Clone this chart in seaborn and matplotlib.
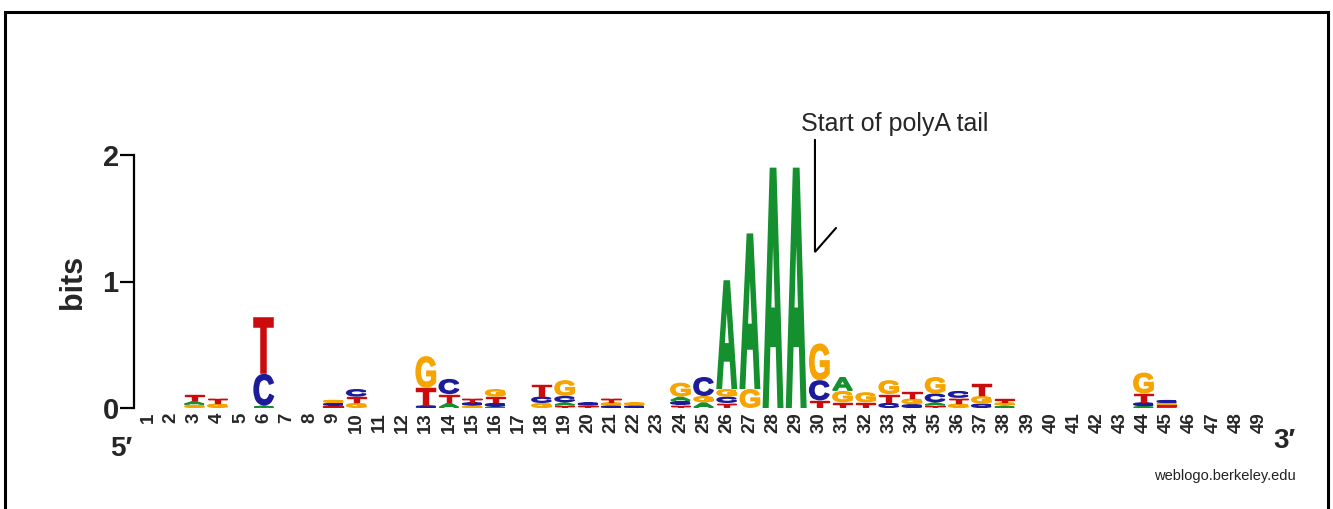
import numpy as np
import pandas as pd
import seaborn as sns
import matplotlib
matplotlib.use("Agg")
import matplotlib.pyplot as plt
from matplotlib.textpath import TextPath
from matplotlib.patches import PathPatch, Rectangle
from matplotlib.font_manager import FontProperties
import matplotlib.transforms as mtransforms

# Information content (bits) per nucleotide at each of the 49 positions
positions = list(range(1, 50))
A_bits = [0, 0, 0.030, 0, 0, 0.020, 0, 0, 0, 0,
          0, 0, 0, 0.040, 0, 0.010, 0, 0, 0.025, 0,
          0, 0, 0, 0.035, 0.045, 0.860, 1.230, 1.900, 1.900, 0,
          0.110, 0, 0, 0, 0.025, 0, 0, 0.020, 0, 0,
          0, 0, 0, 0.015, 0.012, 0, 0, 0, 0]
C_bits = [0, 0, 0, 0, 0, 0.250, 0, 0, 0.022, 0.060,
          0, 0, 0.020, 0.120, 0.025, 0.030, 0, 0.050, 0.050, 0.025,
          0.020, 0.020, 0, 0.030, 0.150, 0.050, 0, 0, 0, 0.160,
          0, 0, 0.040, 0.030, 0.070, 0.055, 0.035, 0, 0, 0,
          0, 0, 0, 0.030, 0.025, 0, 0, 0, 0]
G_bits = [0, 0, 0.025, 0.035, 0, 0, 0, 0, 0.025, 0.040,
          0, 0, 0.250, 0, 0.020, 0.060, 0, 0.040, 0.125, 0,
          0.025, 0.025, 0, 0.110, 0.050, 0.060, 0.150, 0, 0, 0.290,
          0.090, 0.080, 0.110, 0.045, 0.130, 0.035, 0.060, 0.025, 0, 0,
          0, 0, 0, 0.165, 0.015, 0, 0, 0, 0]
T_bits = [0, 0, 0.055, 0.045, 0, 0.450, 0, 0, 0.018, 0.050,
          0, 0, 0.140, 0.070, 0.035, 0.050, 0, 0.100, 0.020, 0.020,
          0.035, 0, 0, 0.025, 0, 0.040, 0, 0, 0, 0.060,
          0.045, 0.045, 0.070, 0.055, 0.020, 0.045, 0.100, 0.030, 0, 0,
          0, 0, 0, 0.070, 0.012, 0, 0, 0, 0]

y_ticks = [0, 1, 2]
annotation_text = "Start of polyA tail"
credit_text = "weblogo.berkeley.edu"

letter_colors = {"A": "#14902e", "C": "#1c1c9a", "G": "#f6a500", "T": "#cc0c0c"}

logo = pd.DataFrame({"A": A_bits, "C": C_bits, "G": G_bits, "T": T_bits},
                    index=positions)

sns.set_theme(style="white")
plt.rcParams["font.family"] = ["Liberation Sans", "DejaVu Sans"]

W, H = 1333, 509
DPI = 100
fig = plt.figure(figsize=(W / DPI, H / DPI), dpi=DPI)
ax = fig.add_axes([134 / W, 1 - 408 / H, 1166 / W, 253 / H])

step = 23.15          # pixels per position
px_per_bit = 253 / 2  # pixels per bit
x_left = 1 - (148 - 134) / step
x_right = 1 + (1300 - 148) / step
ax.set_xlim(x_left, x_right)
ax.set_ylim(0, 2)

glyph_font = FontProperties(family="Liberation Sans", weight="bold")
glyph_cache = {}


def draw_letter(ch, x, y0, w, h):
    if ch not in glyph_cache:
        glyph_cache[ch] = TextPath((0, 0), ch, size=1, prop=glyph_font)
    tp = glyph_cache[ch]
    bb = tp.get_extents()
    # slightly heavier outline for tall glyphs so strokes keep a bold weight
    lw = 1.0 + 0.25 * min(h, 1.9)
    half_px = lw * DPI / 72 / 2
    dx = half_px / step
    dy = min(half_px / px_per_bit, 0.3 * h)
    wi, hi = w - 2 * dx, h - 2 * dy
    tr = (mtransforms.Affine2D()
          .translate(-bb.x0, -bb.y0)
          .scale(wi / bb.width, hi / bb.height)
          .translate(x - wi / 2, y0 + dy))
    ax.add_patch(PathPatch(tr.transform_path(tp), fc=letter_colors[ch],
                           ec=letter_colors[ch], lw=lw, joinstyle="miter"))


# Stack letters at each position, smallest contribution at the bottom
letter_width = 0.9
for pos, row in logo.iterrows():
    base = 0.0
    for ch, h in sorted(row.items(), key=lambda kv: kv[1]):
        if h <= 0:
            continue
        draw_letter(ch, pos, base, letter_width, h)
        base += h

# Axes styling
sns.despine(ax=ax, top=True, right=True, bottom=True, left=False)
ax.spines["left"].set_color("black")
ax.spines["left"].set_linewidth(1.6)
ax.set_yticks(y_ticks)
ax.set_yticklabels([str(t) for t in y_ticks], fontsize=21, fontweight="bold")
ax.tick_params(axis="y", direction="out", length=10, width=1.6,
               color="black", pad=1, left=True)
ax.set_xticks(positions)
ax.set_xticklabels([str(p) for p in positions], rotation=90, fontsize=13.5,
                   fontweight="bold")
ax.tick_params(axis="x", length=0, pad=3)
ax.set_ylabel("bits", fontsize=22, fontweight="bold")
ax.yaxis.set_label_coords((88 - 134) / 1166, 0.5)
ax.grid(False)
ax.set_facecolor("none")

# End labels and credit
fig.text(121 / W, 1 - 449 / H, "5\u2032", fontsize=20, fontweight="bold",
         ha="center", va="center")
fig.text(1284 / W, 1 - 441 / H, "3\u2032", fontsize=20, fontweight="bold",
         ha="center", va="center")
fig.text(1225 / W, 1 - 476 / H, credit_text, fontsize=10.5, ha="center",
         va="center", color="#222222")

# Pointer to the start of the polyA tail
ax.plot([29.81, 29.81, 30.72], [2.12, 1.233, 1.423], color="black", lw=1.5,
        clip_on=False, solid_joinstyle="miter")
ax.text(33.27, 2.245, annotation_text, fontsize=18, ha="center", va="center",
        clip_on=False)

# Page frame
fig.add_artist(Rectangle((5 / W, -0.1), 1323 / W, 1.1 - 12 / H,
                         transform=fig.transFigure, fill=False,
                         ec="black", lw=2.2))

fig.savefig("out.png", dpi=DPI)
